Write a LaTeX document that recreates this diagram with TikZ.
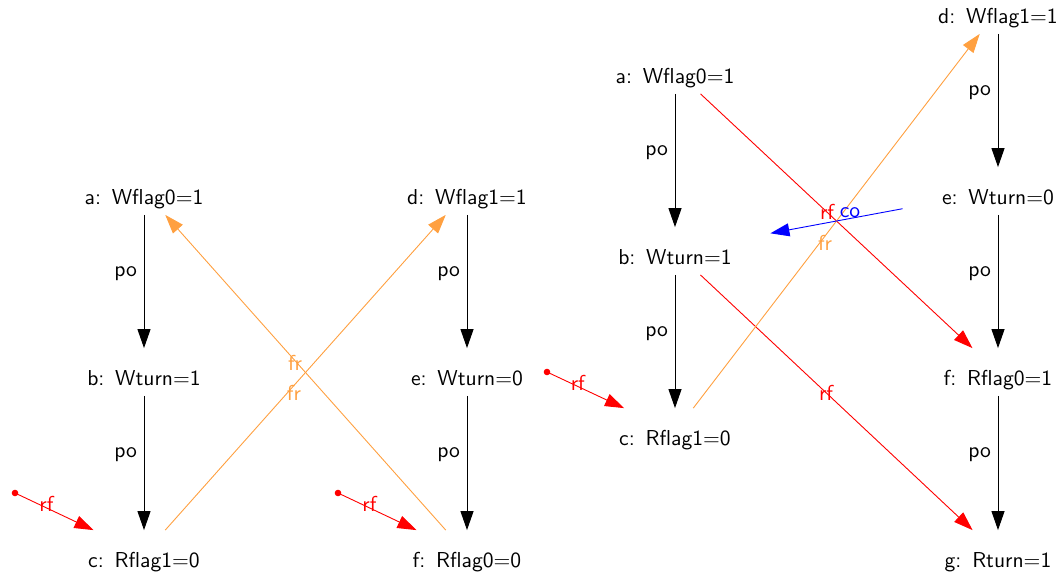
\documentclass[tikz,border=0pt]{standalone}
\usetikzlibrary{arrows.meta}

\definecolor{frcol}{RGB}{255,160,64}

\tikzset{
  ev/.style={rectangle, inner sep=0pt, minimum width=95pt, minimum height=23.5pt,
    text height=13.5pt, text depth=0pt},
  tip/.style={-{Triangle[length=9.5pt,width=6.5pt]}},
  po/.style={tip, draw=black, line width=0.5pt},
  rf/.style={tip, draw=red, text=red, line width=0.45pt},
  fr/.style={tip, draw=frcol, text=frcol, line width=0.45pt},
  co/.style={tip, draw=blue, text=blue, line width=0.45pt},
  dot/.style={fill=red}
}

\begin{document}
\begin{tikzpicture}[x=0.5pt,y=-0.5pt,font=\sffamily\fontsize{10.8}{13}\selectfont]
  \useasboundingbox (0,0) rectangle (1060,573);

  % left test
  \node[ev] (a1) at (144,191) {a:\enspace Wflag0=1};
  \node[ev] (b1) at (144,372) {b:\enspace Wturn=1};
  \node[ev] (c1) at (144,554) {c:\enspace Rflag1=0};
  \node[ev] (d1) at (467,191) {d:\enspace Wflag1=1};
  \node[ev] (e1) at (467,372) {e:\enspace Wturn=0};
  \node[ev] (f1) at (467,554) {f:\enspace Rflag0=0};

  \draw[po] (a1) -- node[left, pos=0.44] {po} (b1);
  \draw[po] (b1) -- node[left, pos=0.44] {po} (c1);
  \draw[po] (d1) -- node[left, pos=0.44] {po} (e1);
  \draw[po] (e1) -- node[left, pos=0.44] {po} (f1);

  \draw[fr] (c1) -- node[xshift=-5.75pt, yshift=-10.25pt] {fr} (d1);
  \draw[fr] (f1) -- node[xshift=-5.25pt, yshift=4.75pt] {fr} (a1);

  \coordinate (c1in) at ([shift={(-129,-61)}]c1.center);
  \coordinate (f1in) at ([shift={(-129,-61)}]f1.center);
  \fill[dot] (c1in) circle[radius=1.65pt];
  \fill[dot] (f1in) circle[radius=1.65pt];
  \draw[rf] (c1in) -- node[pos=0.4, yshift=2pt] {rf} (c1);
  \draw[rf] (f1in) -- node[pos=0.4, yshift=2pt] {rf} (f1);

  % right test
  \node[ev] (a2) at (675,70) {a:\enspace Wflag0=1};
  \node[ev] (b2) at (675,251) {b:\enspace Wturn=1};
  \node[ev] (c2) at (675,432) {c:\enspace Rflag1=0};
  \node[ev] (d2) at (998,10) {d:\enspace Wflag1=1};
  \node[ev] (e2) at (998,191) {e:\enspace Wturn=0};
  \node[ev] (f2) at (998,372) {f:\enspace Rflag0=1};
  \node[ev] (g2) at (998,554) {g:\enspace Rturn=1};

  \draw[po] (a2) -- node[left, pos=0.44] {po} (b2);
  \draw[po] (b2) -- node[left, pos=0.44] {po} (c2);
  \draw[po] (d2) -- node[left, pos=0.44] {po} (e2);
  \draw[po] (e2) -- node[left, pos=0.44] {po} (f2);
  \draw[po] (f2) -- node[left, pos=0.44] {po} (g2);

  \draw[rf] (a2) -- node[xshift=-4.75pt, yshift=4.5pt] {rf} (f2);
  \draw[rf] (b2) -- node[xshift=-5.25pt, yshift=4.75pt] {rf} (g2);
  \draw[fr] (c2) -- node[xshift=-5.75pt, yshift=-11pt] {fr} (d2);
  \draw[co] (e2) -- node[xshift=6.75pt, yshift=4pt] {co} (b2);

  \coordinate (c2in) at ([shift={(-128,-60)}]c2.center);
  \fill[dot] (c2in) circle[radius=1.65pt];
  \draw[rf] (c2in) -- node[pos=0.4, yshift=2pt] {rf} (c2);
\end{tikzpicture}
\end{document}
